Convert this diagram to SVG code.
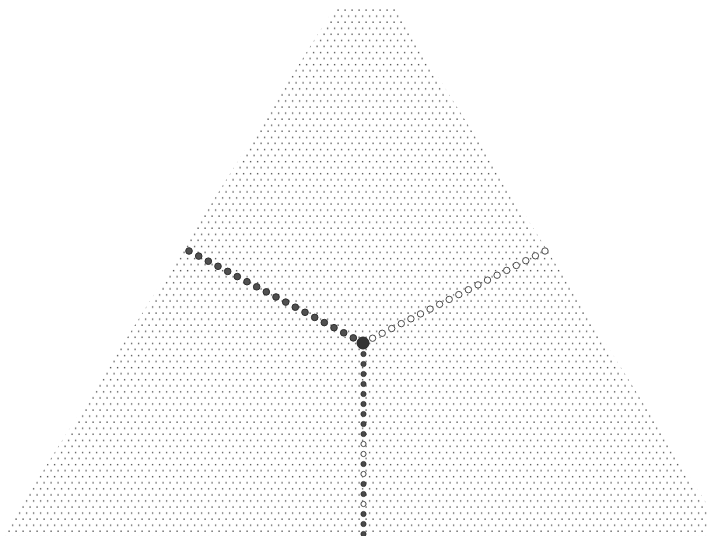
<svg xmlns="http://www.w3.org/2000/svg" width="707" height="536" viewBox="0 0 707 536">
  <defs>
    <pattern id="dots" patternUnits="userSpaceOnUse" x="1" y="9" width="7" height="12.12">
      <rect x="0.4" y="0.4" width="1.4" height="1.4" fill="#5a5a5a"/>
      <rect x="3.9" y="6.46" width="1.4" height="1.4" fill="#5a5a5a"/>
    </pattern>
    <style>
      .f { fill: #505050; stroke: #2e2e2e; stroke-width: 1; }
      .h { fill: #ffffff; stroke: #4a4a4a; stroke-width: 1; }
      .fs { fill: #4a4a4a; stroke: #2e2e2e; stroke-width: 0.8; }
      .hs { fill: #ffffff; stroke: #4a4a4a; stroke-width: 1; }
    </style>
  </defs>
  <rect width="707" height="536" fill="#ffffff"/>
  <g id="triangle">
    <polygon points="335,7 394,7 727,536 2,536" fill="url(#dots)"/>
  </g>
  <g id="connectors">
    <g id="left-line">
      <circle class="f" cx="189" cy="251" r="3.3"/>
      <circle class="f" cx="198.7" cy="256.1" r="3.3"/>
      <circle class="f" cx="208.3" cy="261.2" r="3.3"/>
      <circle class="f" cx="218" cy="266.3" r="3.3"/>
      <circle class="f" cx="227.7" cy="271.4" r="3.3"/>
      <circle class="f" cx="237.3" cy="276.6" r="3.3"/>
      <circle class="f" cx="247" cy="281.7" r="3.3"/>
      <circle class="f" cx="256.7" cy="286.8" r="3.3"/>
      <circle class="f" cx="266.3" cy="291.9" r="3.3"/>
      <circle class="f" cx="276" cy="297" r="3.3"/>
      <circle class="f" cx="285.7" cy="302.1" r="3.3"/>
      <circle class="f" cx="295.3" cy="307.2" r="3.3"/>
      <circle class="f" cx="305" cy="312.3" r="3.3"/>
      <circle class="f" cx="314.7" cy="317.4" r="3.3"/>
      <circle class="f" cx="324.3" cy="322.6" r="3.3"/>
      <circle class="f" cx="334" cy="327.7" r="3.3"/>
      <circle class="f" cx="343.7" cy="332.8" r="3.3"/>
      <circle class="f" cx="353.3" cy="337.9" r="3.3"/>
    </g>
    <g id="right-line">
      <circle class="h" cx="372.6" cy="338.2" r="3.2"/>
      <circle class="h" cx="382.2" cy="333.3" r="3.2"/>
      <circle class="h" cx="391.7" cy="328.5" r="3.2"/>
      <circle class="h" cx="401.3" cy="323.6" r="3.2"/>
      <circle class="h" cx="410.9" cy="318.8" r="3.2"/>
      <circle class="h" cx="420.5" cy="313.9" r="3.2"/>
      <circle class="h" cx="430.1" cy="309.1" r="3.2"/>
      <circle class="h" cx="439.6" cy="304.3" r="3.2"/>
      <circle class="h" cx="449.2" cy="299.4" r="3.2"/>
      <circle class="h" cx="458.8" cy="294.6" r="3.2"/>
      <circle class="h" cx="468.4" cy="289.7" r="3.2"/>
      <circle class="h" cx="478" cy="284.9" r="3.2"/>
      <circle class="h" cx="487.5" cy="280.1" r="3.2"/>
      <circle class="h" cx="497.1" cy="275.2" r="3.2"/>
      <circle class="h" cx="506.7" cy="270.4" r="3.2"/>
      <circle class="h" cx="516.3" cy="265.5" r="3.2"/>
      <circle class="h" cx="525.8" cy="260.7" r="3.2"/>
      <circle class="h" cx="535.4" cy="255.8" r="3.2"/>
      <circle class="h" cx="545" cy="251" r="3.2"/>
    </g>
    <g id="bottom-line">
      <circle class="fs" cx="363.5" cy="354" r="2.6"/>
      <circle class="fs" cx="363.5" cy="364" r="2.6"/>
      <circle class="fs" cx="363.5" cy="374" r="2.6"/>
      <circle class="fs" cx="363.5" cy="384" r="2.6"/>
      <circle class="fs" cx="363.5" cy="394" r="2.6"/>
      <circle class="fs" cx="363.5" cy="404" r="2.6"/>
      <circle class="fs" cx="363.5" cy="414" r="2.6"/>
      <circle class="fs" cx="363.5" cy="424" r="2.6"/>
      <circle class="fs" cx="363.5" cy="434" r="2.6"/>
      <circle class="hs" cx="363.5" cy="444" r="2.6"/>
      <circle class="hs" cx="363.5" cy="454" r="2.6"/>
      <circle class="fs" cx="363.5" cy="464" r="2.6"/>
      <circle class="hs" cx="363.5" cy="474" r="2.6"/>
      <circle class="fs" cx="363.5" cy="484" r="2.6"/>
      <circle class="fs" cx="363.5" cy="494" r="2.6"/>
      <circle class="hs" cx="363.5" cy="504" r="2.6"/>
      <circle class="fs" cx="363.5" cy="514" r="2.6"/>
      <circle class="fs" cx="363.5" cy="524" r="2.6"/>
      <circle class="fs" cx="363.5" cy="534" r="2.6"/>
    </g>
  </g>
  <g id="center">
    <circle cx="363" cy="343" r="6" fill="#333333" stroke="#222222" stroke-width="1"/>
  </g>
</svg>
